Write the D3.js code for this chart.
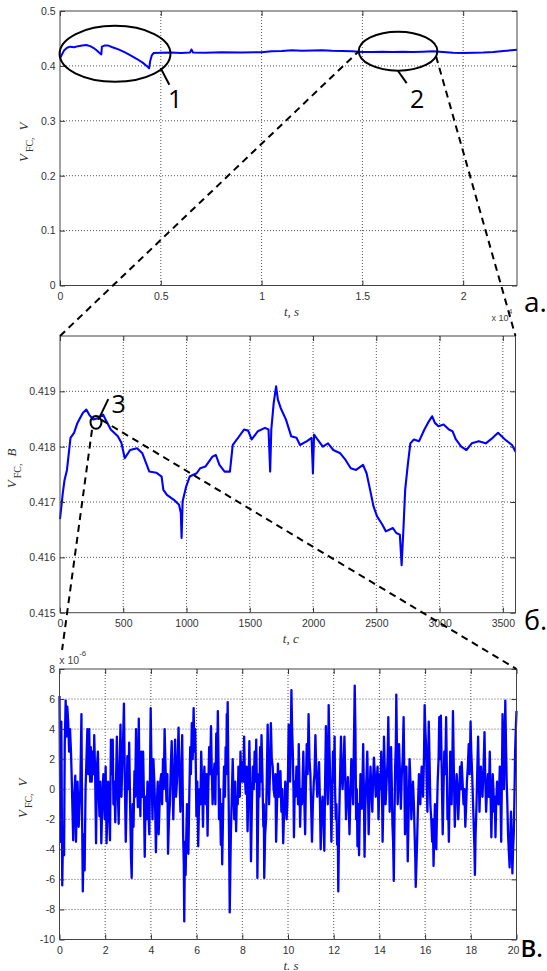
<!DOCTYPE html>
<html>
<head>
<meta charset="utf-8">
<script src="https://cdn.jsdelivr.net/npm/d3@7"></script>
<style>
  body { margin: 0; background: #fff; }
  svg { display: block; }
</style>
</head>
<body>
<script>
// --- data ---

// panel a: full run, t in units of 1e4 s
const runT = [0, 0.01, 0.02, 0.035, 0.05, 0.07, 0.09, 0.11, 0.13, 0.15, 0.165, 0.18, 0.195, 0.205, 0.208, 0.22, 0.24, 0.26, 0.29, 0.32, 0.35, 0.38, 0.41, 0.43, 0.442, 0.447, 0.455, 0.465, 0.5, 0.55, 0.6, 0.645, 0.652, 0.66, 0.72, 0.8, 0.9, 1.0, 1.05, 1.1, 1.15, 1.2, 1.25, 1.3, 1.35, 1.4, 1.45, 1.5, 1.55, 1.6, 1.65, 1.7, 1.75, 1.8, 1.85, 1.9, 1.95, 2.0, 2.05, 2.1, 2.15, 2.2, 2.24, 2.267];
const runV = [0.414, 0.421, 0.428, 0.433, 0.435, 0.434, 0.436, 0.437, 0.438, 0.436, 0.433, 0.429, 0.424, 0.421, 0.435, 0.437, 0.437, 0.434, 0.430, 0.425, 0.419, 0.413, 0.406, 0.400, 0.3955, 0.408, 0.419, 0.4235, 0.424, 0.4245, 0.4235, 0.4245, 0.430, 0.4245, 0.424, 0.425, 0.4245, 0.425, 0.4265, 0.427, 0.4285, 0.4275, 0.428, 0.4285, 0.4275, 0.427, 0.4265, 0.4255, 0.4255, 0.426, 0.4255, 0.426, 0.4255, 0.426, 0.4265, 0.4255, 0.424, 0.4235, 0.424, 0.4245, 0.4255, 0.427, 0.4285, 0.4295];

// panel б: one hour, t in s
const hourT = [0, 22, 36, 55, 83, 111, 138, 180, 208, 230, 263, 305, 341, 360, 401, 457, 485, 512, 554, 609, 651, 706, 761, 803, 817, 845, 900, 941, 955, 961, 969, 997, 1025, 1080, 1108, 1149, 1205, 1232, 1260, 1301, 1343, 1365, 1398, 1454, 1487, 1515, 1564, 1620, 1648, 1661, 1670, 1689, 1708, 1722, 1744, 1786, 1827, 1869, 1897, 1952, 1988, 1999, 2008, 2035, 2077, 2118, 2160, 2215, 2257, 2298, 2340, 2395, 2423, 2451, 2478, 2506, 2548, 2575, 2631, 2658, 2686, 2700, 2714, 2728, 2750, 2769, 2797, 2838, 2880, 2908, 2941, 2963, 2991, 3032, 3074, 3102, 3129, 3171, 3212, 3254, 3310, 3365, 3420, 3462, 3517, 3573, 3600];
const hourV = [0.41669, 0.41716, 0.41740, 0.41758, 0.41816, 0.41825, 0.41843, 0.41861, 0.41867, 0.41858, 0.41849, 0.41852, 0.41858, 0.41849, 0.41831, 0.41819, 0.41807, 0.41779, 0.41794, 0.41797, 0.41788, 0.41755, 0.41753, 0.41746, 0.41722, 0.41713, 0.41704, 0.41695, 0.41680, 0.41635, 0.41701, 0.41728, 0.41746, 0.41752, 0.41761, 0.41764, 0.41782, 0.41785, 0.41767, 0.41755, 0.41755, 0.41803, 0.41813, 0.41831, 0.41829, 0.41813, 0.41828, 0.41834, 0.41831, 0.41755, 0.41831, 0.41879, 0.41909, 0.41885, 0.41870, 0.41849, 0.41819, 0.41816, 0.41803, 0.41810, 0.41816, 0.41752, 0.41822, 0.41813, 0.41800, 0.41806, 0.41794, 0.41788, 0.41776, 0.41761, 0.41758, 0.41767, 0.41752, 0.41722, 0.41692, 0.41674, 0.41659, 0.41647, 0.41653, 0.41644, 0.41641, 0.41586, 0.41650, 0.41722, 0.41770, 0.41806, 0.41813, 0.41810, 0.41831, 0.41843, 0.41855, 0.41843, 0.41837, 0.41840, 0.41831, 0.41828, 0.41813, 0.41800, 0.41794, 0.41806, 0.41810, 0.41806, 0.41816, 0.41825, 0.41813, 0.41803, 0.41791];

// panel в: 20 s of fluctuation, [t s, V x 1e-6]
const noise = [[0.0,6.2],[0.04,-3.5],[0.08,4.5],[0.12,-6.4],[0.16,-2.5],[0.2,-4.4],[0.23,3.0],[0.27,5.9],[0.3,3.5],[0.34,5.5],[0.38,4.5],[0.42,2.5],[0.46,4.0],[0.5,2.6],[0.53,1.0],[0.57,-1.5],[0.6,-3.4],[0.64,-0.5],[0.69,0.9],[0.72,-3.5],[0.76,-1.0],[0.79,0.5],[0.84,-2.5],[0.88,-1.0],[0.91,0.0],[0.96,5.0],[0.99,-2.0],[1.02,-6.8],[1.06,-3.0],[1.1,-5.4],[1.14,0.0],[1.18,2.0],[1.22,4.0],[1.26,1.0],[1.3,4.0],[1.34,0.5],[1.37,2.8],[1.41,0.5],[1.45,2.5],[1.49,1.0],[1.52,3.6],[1.56,1.0],[1.6,-3.6],[1.64,1.5],[1.68,2.5],[1.72,-0.5],[1.75,-1.8],[1.79,0.5],[1.83,-3.6],[1.88,-0.5],[1.92,1.0],[1.98,-2.0],[2.02,1.5],[2.06,-3.6],[2.1,-1.0],[2.13,0.5],[2.17,-1.5],[2.21,-3.4],[2.25,3.3],[2.29,1.0],[2.33,3.3],[2.36,-1.0],[2.4,0.5],[2.44,-2.2],[2.48,1.0],[2.51,3.5],[2.55,0.0],[2.59,-2.3],[2.63,1.5],[2.67,4.3],[2.71,-0.5],[2.74,1.2],[2.78,3.0],[2.82,5.7],[2.86,0.5],[2.9,-3.5],[2.94,-0.5],[2.97,2.2],[3.01,0.0],[3.05,3.1],[3.09,-1.0],[3.13,-4.6],[3.16,-5.9],[3.2,-1.0],[3.24,-2.5],[3.28,1.2],[3.31,-0.5],[3.35,4.0],[3.39,0.5],[3.43,-1.2],[3.47,4.7],[3.5,0.5],[3.54,-1.8],[3.58,2.5],[3.62,-0.5],[3.66,2.5],[3.7,-1.0],[3.73,-4.5],[3.77,-0.5],[3.81,-2.0],[3.85,0.5],[3.89,-1.5],[3.93,-3.0],[3.96,1.0],[3.99,5.4],[4.03,1.0],[4.07,-2.0],[4.11,2.0],[4.15,0.5],[4.19,-1.5],[4.22,-4.2],[4.26,-1.0],[4.3,0.5],[4.34,-3.0],[4.37,-1.5],[4.41,0.5],[4.45,1.0],[4.49,-1.0],[4.53,2.0],[4.56,0.0],[4.6,4.0],[4.64,1.5],[4.68,-0.8],[4.72,1.0],[4.75,-4.3],[4.79,-2.0],[4.83,-1.0],[4.87,1.5],[4.91,3.2],[4.95,0.5],[4.98,-2.0],[5.02,0.5],[5.06,3.3],[5.1,-0.5],[5.14,0.5],[5.18,2.5],[5.21,4.1],[5.25,1.0],[5.29,-1.5],[5.33,1.0],[5.37,3.6],[5.41,-3.0],[5.44,-5.0],[5.46,-8.8],[5.49,-3.5],[5.52,-5.7],[5.55,-3.0],[5.58,-1.0],[5.61,-2.5],[5.64,-4.3],[5.68,-0.5],[5.72,2.8],[5.75,1.0],[5.79,4.4],[5.83,2.0],[5.87,5.4],[5.9,2.5],[5.94,4.0],[5.97,1.0],[5.99,-1.8],[6.03,0.5],[6.07,-3.8],[6.1,-1.5],[6.13,0.0],[6.17,-1.0],[6.2,2.5],[6.24,0.5],[6.28,-2.5],[6.31,0.0],[6.34,1.5],[6.37,-0.5],[6.4,-1.0],[6.44,1.0],[6.48,-3.1],[6.51,0.0],[6.55,2.8],[6.59,1.0],[6.63,4.2],[6.66,1.5],[6.7,-1.0],[6.74,0.5],[6.78,1.7],[6.82,-1.0],[6.86,3.7],[6.89,1.0],[6.93,5.2],[6.96,1.5],[6.98,-2.0],[7.02,0.0],[7.06,-3.7],[7.09,-1.0],[7.12,-5.0],[7.16,-1.5],[7.2,1.5],[7.24,-0.5],[7.27,2.8],[7.3,1.0],[7.32,5.0],[7.34,2.0],[7.36,5.8],[7.39,1.0],[7.42,-3.0],[7.45,-8.2],[7.48,-5.0],[7.5,-3.0],[7.54,-0.5],[7.58,2.0],[7.61,0.0],[7.65,-2.0],[7.69,0.5],[7.73,-2.8],[7.76,-0.5],[7.8,-1.0],[7.83,1.5],[7.86,1.0],[7.89,-0.5],[7.92,2.5],[7.96,0.5],[8.0,1.8],[8.04,0.5],[8.08,3.5],[8.11,1.0],[8.15,-0.3],[8.19,1.5],[8.23,-2.8],[8.27,0.0],[8.31,3.2],[8.34,0.5],[8.38,-4.8],[8.42,-1.0],[8.46,1.5],[8.5,0.0],[8.54,2.5],[8.57,0.5],[8.61,3.3],[8.64,0.0],[8.66,-5.9],[8.69,-2.0],[8.72,1.0],[8.75,-0.5],[8.78,2.8],[8.81,0.5],[8.84,3.6],[8.88,1.0],[8.92,-2.5],[8.94,-1.0],[8.96,-5.9],[9.0,-3.0],[9.04,-2.0],[9.07,0.5],[9.11,4.3],[9.14,1.5],[9.17,-1.0],[9.21,1.0],[9.25,4.4],[9.29,2.0],[9.33,1.5],[9.37,0.0],[9.41,-0.5],[9.45,1.0],[9.48,-3.5],[9.52,-1.0],[9.56,1.7],[9.6,-0.5],[9.63,0.5],[9.67,1.2],[9.71,-1.5],[9.75,0.0],[9.79,-3.6],[9.82,-2.0],[9.85,-1.2],[9.88,0.5],[9.91,0.0],[9.94,-2.0],[9.97,-1.0],[10.0,1.0],[10.03,4.3],[10.06,1.5],[10.09,0.5],[10.12,3.0],[10.15,6.6],[10.18,4.0],[10.21,2.5],[10.24,0.0],[10.26,-3.2],[10.3,0.5],[10.33,-0.5],[10.37,1.5],[10.41,0.8],[10.44,-1.0],[10.47,3.0],[10.5,0.5],[10.53,-2.5],[10.57,0.0],[10.61,-1.0],[10.64,0.5],[10.67,2.5],[10.71,-0.5],[10.75,-3.0],[10.78,0.0],[10.82,3.0],[10.86,1.0],[10.9,5.0],[10.94,2.0],[10.98,1.0],[11.01,-1.0],[11.05,-3.5],[11.09,-1.0],[11.13,0.5],[11.16,1.0],[11.2,3.6],[11.24,1.0],[11.28,-0.5],[11.32,0.5],[11.36,1.8],[11.4,-1.0],[11.43,-4.0],[11.47,-1.5],[11.51,-0.5],[11.55,-2.0],[11.59,-4.1],[11.62,0.0],[11.66,4.2],[11.7,1.0],[11.74,-1.0],[11.76,1.5],[11.78,5.6],[11.81,3.0],[11.84,1.0],[11.87,-1.0],[11.9,-3.5],[11.94,0.0],[11.97,2.5],[12.0,0.5],[12.04,3.5],[12.06,0.0],[12.09,-2.0],[12.12,-1.0],[12.15,-3.7],[12.18,-2.5],[12.2,-6.8],[12.24,-2.0],[12.28,1.0],[12.32,3.5],[12.35,1.0],[12.39,0.0],[12.43,1.5],[12.47,3.5],[12.51,0.5],[12.54,-2.0],[12.58,-0.5],[12.62,0.8],[12.66,-1.0],[12.69,-3.0],[12.73,-0.5],[12.77,2.0],[12.81,0.5],[12.85,-1.0],[12.88,2.5],[12.92,6.9],[12.95,4.0],[12.98,-2.0],[13.01,0.0],[13.04,-3.8],[13.07,-1.0],[13.11,-4.4],[13.14,-1.5],[13.17,1.0],[13.2,0.0],[13.23,-1.3],[13.26,0.5],[13.29,3.0],[13.32,0.0],[13.35,-4.5],[13.38,-1.5],[13.41,0.0],[13.44,1.0],[13.47,2.5],[13.5,0.0],[13.53,-3.0],[13.57,-0.5],[13.61,1.5],[13.65,0.0],[13.69,-1.5],[13.72,0.5],[13.76,2.1],[13.8,1.0],[13.84,-0.5],[13.88,0.5],[13.92,1.5],[13.94,0.0],[13.96,-2.0],[13.99,-0.5],[14.02,1.0],[14.05,0.0],[14.08,2.5],[14.11,0.5],[14.14,-3.5],[14.17,-1.0],[14.2,3.5],[14.24,1.0],[14.27,-1.0],[14.3,0.0],[14.33,1.0],[14.36,2.0],[14.39,4.8],[14.42,1.5],[14.45,-1.5],[14.48,0.5],[14.51,2.8],[14.54,0.5],[14.57,-2.3],[14.6,-3.5],[14.63,-6.1],[14.66,-2.0],[14.69,1.5],[14.72,3.0],[14.74,6.3],[14.77,2.5],[14.8,-1.0],[14.83,0.5],[14.86,3.0],[14.9,1.0],[14.94,-1.3],[14.98,1.0],[15.02,2.0],[15.06,4.8],[15.09,1.0],[15.12,-3.0],[15.15,-1.0],[15.18,1.5],[15.21,-1.0],[15.24,-4.8],[15.28,-1.5],[15.32,2.0],[15.36,0.5],[15.4,-2.0],[15.43,-0.5],[15.47,0.5],[15.51,-1.0],[15.55,-3.5],[15.57,-4.5],[15.59,-6.5],[15.62,-5.0],[15.65,-3.5],[15.69,-1.0],[15.73,1.0],[15.76,0.0],[15.79,-1.0],[15.82,0.5],[15.85,1.5],[15.88,1.0],[15.91,-0.5],[15.95,2.0],[15.98,5.6],[16.01,4.0],[16.04,3.0],[16.07,0.5],[16.1,-1.5],[16.13,1.0],[16.16,4.5],[16.2,1.5],[16.23,-1.0],[16.27,-2.0],[16.31,-3.5],[16.34,-2.0],[16.37,-5.1],[16.4,-3.0],[16.43,-1.0],[16.46,-2.5],[16.49,-4.0],[16.52,-1.5],[16.55,0.5],[16.59,2.0],[16.62,4.8],[16.65,2.0],[16.69,4.9],[16.73,1.0],[16.77,-3.0],[16.8,-0.5],[16.84,2.5],[16.88,1.0],[16.92,4.8],[16.95,1.5],[16.98,-2.0],[17.01,-1.0],[17.04,-3.5],[17.07,-0.5],[17.1,2.5],[17.13,0.5],[17.16,-1.0],[17.19,1.5],[17.22,5.2],[17.26,1.0],[17.3,-2.5],[17.34,-0.5],[17.38,1.0],[17.42,0.0],[17.45,-2.0],[17.49,-0.5],[17.53,1.5],[17.57,0.0],[17.6,1.8],[17.64,0.5],[17.68,-1.0],[17.72,0.0],[17.76,-2.5],[17.8,-1.0],[17.83,0.5],[17.87,1.5],[17.91,3.0],[17.95,1.0],[17.99,4.5],[18.02,2.5],[18.06,1.0],[18.1,-1.0],[18.14,-3.0],[18.16,-4.0],[18.18,-5.7],[18.21,-3.0],[18.25,-1.0],[18.28,1.0],[18.32,3.5],[18.35,1.0],[18.38,-1.5],[18.41,0.0],[18.44,1.5],[18.48,0.5],[18.51,-0.5],[18.55,1.0],[18.6,3.8],[18.63,1.0],[18.67,-1.5],[18.71,0.0],[18.75,1.0],[18.79,-0.5],[18.83,2.5],[18.86,0.0],[18.9,-3.2],[18.93,-1.0],[18.96,1.0],[18.99,0.0],[19.02,-1.5],[19.05,-0.5],[19.08,-3.2],[19.11,-1.0],[19.15,0.5],[19.18,-0.5],[19.21,-1.0],[19.24,0.0],[19.27,1.5],[19.3,-0.5],[19.33,-3.5],[19.36,0.5],[19.39,5.0],[19.42,2.5],[19.45,0.0],[19.48,2.5],[19.51,5.9],[19.54,3.0],[19.57,0.5],[19.6,-1.0],[19.63,-3.0],[19.66,-4.0],[19.7,-5.2],[19.73,-3.0],[19.76,-1.5],[19.79,-3.0],[19.82,-5.6],[19.85,-4.0],[19.88,-3.0],[19.91,-0.5],[19.94,2.5],[19.97,4.0],[20.0,5.2]];

// tick values and labels
const runXTicks = [0, 0.5, 1, 1.5, 2];
const runXLabels = ['0', '0.5', '1', '1.5', '2'];
const runYTicks = [0, 0.1, 0.2, 0.3, 0.4, 0.5];
const runYLabels = ['0', '0.1', '0.2', '0.3', '0.4', '0.5'];
const hourXTicks = [0, 500, 1000, 1500, 2000, 2500, 3000, 3500];
const hourYTicks = [0.415, 0.416, 0.417, 0.418, 0.419];
const hourYLabels = ['0.415', '0.416', '0.417', '0.418', '0.419'];
const noiseXTicks = [0, 2, 4, 6, 8, 10, 12, 14, 16, 18, 20];
const noiseYTicks = [-10, -8, -6, -4, -2, 0, 2, 4, 6, 8];

const svg = d3.select('body').append('svg')
  .attr('width', 547)
  .attr('height', 971);

const BLUE = '#0000ff';
const TICK_FONT = '"Liberation Sans", Arial, sans-serif';
const SERIF = '"Liberation Serif", "Times New Roman", serif';
const BIG_FONT = '"Open Sans", "DejaVu Sans", sans-serif';

// draws one MATLAB-style axes box and returns its scales
function drawPanel(p) {
  const x = d3.scaleLinear().domain(p.xDomain).range([p.left, p.right]);
  const y = d3.scaleLinear().domain(p.yDomain).range([p.bottom, p.top]);
  const g = svg.append('g');

  // dotted grid
  const gx = p.xTicks.filter(t => t > p.xDomain[0] && t < p.xDomain[1]);
  const gy = p.yTicks.filter(t => t > p.yDomain[0] && t < p.yDomain[1]);
  g.selectAll('line.vg').data(gx).join('line')
    .attr('x1', d => x(d)).attr('x2', d => x(d))
    .attr('y1', p.top).attr('y2', p.bottom)
    .attr('stroke', '#555').attr('stroke-dasharray', '1,2');
  g.selectAll('line.hg').data(gy).join('line')
    .attr('x1', p.left).attr('x2', p.right)
    .attr('y1', d => y(d)).attr('y2', d => y(d))
    .attr('stroke', '#555').attr('stroke-dasharray', '1,2');

  // data line
  g.append('path')
    .datum(p.series)
    .attr('d', d3.line().x(d => x(d[0])).y(d => y(d[1])))
    .attr('fill', 'none')
    .attr('stroke', BLUE)
    .attr('stroke-width', p.lineWidth)
    .attr('stroke-linejoin', 'round');

  // axes, ticks pointing inward on all four sides
  const fmtX = (d, i) => p.xLabels[i];
  const fmtY = (d, i) => p.yLabels[i];
  const axes = [
    [d3.axisBottom(x).tickValues(p.xTicks).tickFormat(fmtX).tickPadding(7), `translate(0,${p.bottom})`],
    [d3.axisLeft(y).tickValues(p.yTicks).tickFormat(fmtY).tickPadding(4.5), `translate(${p.left},0)`],
    [d3.axisTop(x).tickValues(p.xTicks).tickFormat(''), `translate(0,${p.top})`],
    [d3.axisRight(y).tickValues(p.yTicks).tickFormat(''), `translate(${p.right},0)`]
  ];
  axes.forEach(([ax, tr], ai) => {
    const a = g.append('g').attr('transform', tr)
      .call(ax.tickSizeInner(-5).tickSizeOuter(0));
    a.select('.domain').remove();
    a.selectAll('line').attr('stroke', '#333');
    a.selectAll('text')
      .attr('font-family', TICK_FONT)
      .attr('font-size', 10.5)
      .attr('fill', '#333');
    // a label sitting on the right edge is pulled inside, as in the original
    if (ai === 0 && p.lastLabelShift) {
      a.selectAll('.tick text').filter(d => d === p.xDomain[1])
        .attr('dx', -p.lastLabelShift);
    }
  });

  // box
  g.append('rect')
    .attr('x', p.left).attr('y', p.top)
    .attr('width', p.right - p.left).attr('height', p.bottom - p.top)
    .attr('fill', 'none').attr('stroke', '#444').attr('stroke-width', 1);

  // x label
  g.append('text')
    .attr('x', (p.left + p.right) / 2 + 3)
    .attr('y', p.bottom + 30)
    .attr('text-anchor', 'middle')
    .attr('font-family', SERIF)
    .attr('font-style', 'italic')
    .attr('font-size', 13)
    .attr('fill', '#333')
    .text(p.xTitle);

  // y label: V with subscript FC, then unit
  const yl = g.append('text')
    .attr('transform', `translate(${p.yTitleX},${(p.top + p.bottom) / 2 - 6}) rotate(-90)`)
    .attr('text-anchor', 'middle')
    .attr('font-family', SERIF)
    .attr('fill', '#333');
  yl.append('tspan').attr('font-style', 'italic').attr('font-size', 13).text('V');
  yl.append('tspan').attr('font-size', 10).attr('dx', 2).attr('dy', 5).text('FC,');
  yl.append('tspan').attr('font-style', 'italic').attr('font-size', 13)
    .attr('dx', 7).attr('dy', -5).text(p.yUnit);

  return { x, y };
}

const run = drawPanel({
  left: 60, right: 517, top: 11, bottom: 285.5,
  xDomain: [0, 2.267], yDomain: [0, 0.5],
  xTicks: runXTicks, xLabels: runXLabels,
  yTicks: runYTicks, yLabels: runYLabels,
  series: runT.map((t, i) => [t, runV[i]]),
  lineWidth: 2,
  xTitle: 't, s', yTitleX: 28, yUnit: 'V'
});

const hour = drawPanel({
  left: 60, right: 515.5, top: 336, bottom: 612.7,
  xDomain: [0, 3600], yDomain: [0.415, 0.420],
  xTicks: hourXTicks, xLabels: hourXTicks.map(String),
  yTicks: hourYTicks, yLabels: hourYLabels,
  series: hourT.map((t, i) => [t, hourV[i]]),
  lineWidth: 2.1,
  xTitle: 't, c', yTitleX: 16, yUnit: 'В'
});

const fine = drawPanel({
  left: 59.5, right: 516.5, top: 669, bottom: 939.5,
  xDomain: [0, 20], yDomain: [-10, 8],
  xTicks: noiseXTicks, xLabels: noiseXTicks.map(String),
  yTicks: noiseYTicks, yLabels: noiseYTicks.map(String),
  series: noise,
  lineWidth: 2.3,
  lastLabelShift: 3.5,
  xTitle: 't. s', yTitleX: 27, yUnit: 'V'
});

// exponent labels
function expLabel(x0, base, sup, size, supDy) {
  const t = svg.append('text')
    .attr('x', x0).attr('y', base)
    .attr('font-family', TICK_FONT)
    .attr('font-size', size)
    .attr('fill', '#444');
  t.append('tspan').text('x 10');
  t.append('tspan').attr('font-size', size * 0.75).attr('dy', supDy).text(sup);
}
expLabel(491.5, 320.5, '4', 9, -7);
expLabel(59.3, 664, '-6', 10.5, -8);

// --- annotations ---
const ink = '#000';
const big = (x0, y0, txt, size, weight) => svg.append('text')
  .attr('x', x0).attr('y', y0)
  .attr('font-family', BIG_FONT)
  .attr('font-size', size)
  .attr('font-weight', weight || 400)
  .attr('fill', ink)
  .text(txt);

// ellipses on panel a, defined in data units
const zones = [
  { t: 0.273, v: 0.422, dt: 0.275, dv: 0.051, lead: [45.6, 14.3, 54.3, 31], label: '1', lx: 53, ly: 54 },
  { t: 1.677, v: 0.4268, dt: 0.195, dv: 0.0355, lead: [0, 19.8, 8.6, 32], label: '2', lx: 12, ly: 57 }
];
zones.forEach(z => {
  const cx = run.x(z.t), cy = run.y(z.v);
  const rx = run.x(z.t + z.dt) - cx, ry = run.y(z.v - z.dv) - cy;
  svg.append('ellipse')
    .attr('cx', cx).attr('cy', cy).attr('rx', rx).attr('ry', ry)
    .attr('fill', 'none').attr('stroke', ink).attr('stroke-width', 2);
  svg.append('line')
    .attr('x1', cx + z.lead[0]).attr('y1', cy + z.lead[1])
    .attr('x2', cx + z.lead[2]).attr('y2', cy + z.lead[3])
    .attr('stroke', ink).attr('stroke-width', 2);
  big(cx + z.lx, cy + z.ly, z.label, 25);
  z.cx = cx; z.cy = cy; z.rx = rx; z.ry = ry;
});

const dashed = (x1, y1, x2, y2) => svg.append('line')
  .attr('x1', x1).attr('y1', y1).attr('x2', x2).attr('y2', y2)
  .attr('stroke', ink).attr('stroke-width', 2)
  .attr('stroke-dasharray', '7,5');

// zoom from ellipse 2 to panel б
const z2 = zones[1];
const ang = Math.asin(5 / z2.ry);
dashed(hour.x(0), hour.y(0.420), z2.cx - z2.rx, z2.cy);
dashed(z2.cx + z2.rx * Math.cos(ang), z2.cy + z2.ry * Math.sin(ang), hour.x(3600), hour.y(0.420));

// marker 3 on panel б
const m3x = hour.x(284.5), m3y = hour.y(0.41844);
svg.append('ellipse')
  .attr('cx', m3x).attr('cy', m3y).attr('rx', 5.5).attr('ry', 6.3)
  .attr('fill', 'none').attr('stroke', ink).attr('stroke-width', 2);
svg.append('line')
  .attr('x1', m3x + 2.3).attr('y1', m3y - 2.5)
  .attr('x2', m3x + 12.3).attr('y2', m3y - 23.2)
  .attr('stroke', ink).attr('stroke-width', 2);
big(m3x + 15.5, m3y - 9, '3', 25);

// zoom from marker 3 to panel в
const cornerL = [fine.x(0), fine.y(8)];
const startL = [m3x - 4, m3y + 7.5];
const k = (650 - startL[1]) / (cornerL[1] - startL[1]);
dashed(startL[0], startL[1], startL[0] + (cornerL[0] - startL[0]) * k, 650);
dashed(m3x + 5.5, m3y - 2.5, fine.x(20), fine.y(8));

// panel letters
big(524, 311.5, 'а.', 28);
big(524, 630, 'б.', 27);
big(520.5, 957, 'В.', 24, 600);
</script>
</body>
</html>
